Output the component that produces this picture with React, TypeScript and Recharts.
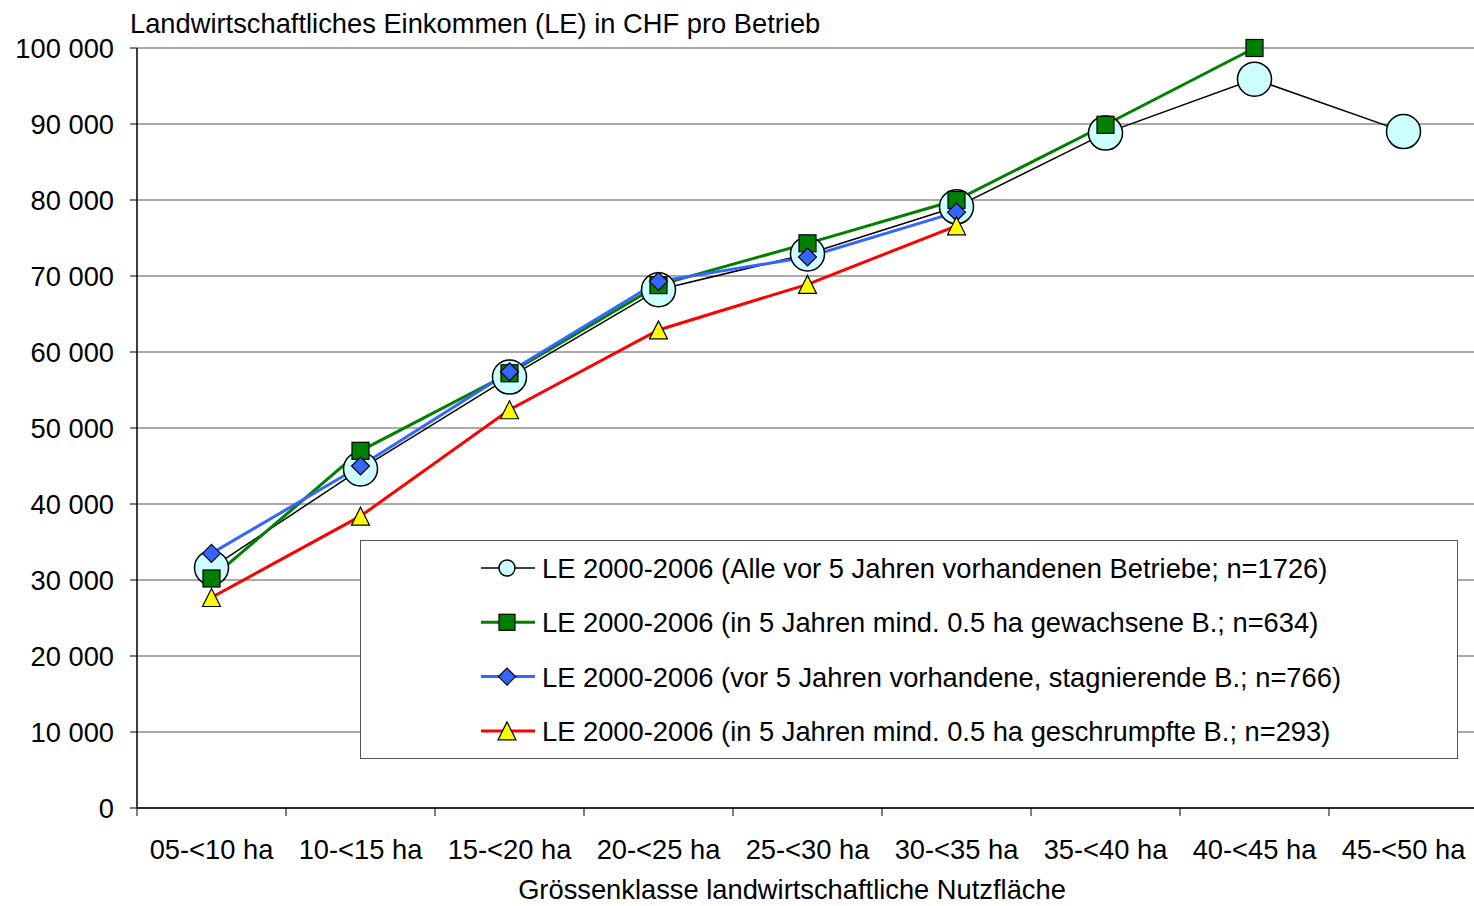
import React from 'react';
import { LineChart, Line, XAxis, YAxis, CartesianGrid } from 'recharts';

const categories = ['05-<10 ha', '10-<15 ha', '15-<20 ha', '20-<25 ha', '25-<30 ha', '30-<35 ha', '35-<40 ha', '40-<45 ha', '45-<50 ha'];
const leAll = [31600, 44600, 56700, 68200, 72900, 79100, 88800, 95900, 89000];
const leGrown = [30200, 47000, 57200, 68800, 74300, 80000, 89900, 100000, null];
const leStagnant = [33500, 45000, 57400, 69300, 72500, 78400, null, null, null];
const leShrunk = [27700, 38400, 52400, 62900, 68900, 76600, null, null, null];
const yTicks = [0, 10000, 20000, 30000, 40000, 50000, 60000, 70000, 80000, 90000, 100000];
const xTicks = [0, 1, 2, 3, 4, 5, 6, 7, 8, 9];

const seriesNames = [
  'LE 2000-2006 (Alle vor 5 Jahren vorhandenen Betriebe; n=1726)',
  'LE 2000-2006 (in 5 Jahren mind. 0.5 ha gewachsene B.; n=634)',
  'LE 2000-2006 (vor 5 Jahren vorhandene, stagnierende B.; n=766)',
  'LE 2000-2006 (in 5 Jahren mind. 0.5 ha geschrumpfte B.; n=293)',
];
const title = 'Landwirtschaftliches Einkommen (LE) in CHF pro Betrieb';
const xTitle = 'Grössenklasse landwirtschaftliche Nutzfläche';

const data = categories.map((c, i) => ({
  x: i + 0.5,
  cat: c,
  all: leAll[i],
  grown: leGrown[i],
  stag: leStagnant[i],
  shrunk: leShrunk[i],
}));

const FONT = '"Liberation Sans", Arial, sans-serif';
const FS = 27.3;
const W = 1474;
const CW = 1478;
const H = 906;
const LEFT = 137;
const BAND = (CW - LEFT) / 9;

const fmt = (v: number) => String(v).replace(/\B(?=(\d{3})+(?!\d))/g, ' ');

type Kind = 'circle' | 'square' | 'diamond' | 'triangle';

function Marker({ kind, cx, cy, big }: { kind: Kind; cx: number; cy: number; big: boolean }) {
  if (kind === 'circle') {
    return <circle cx={cx} cy={cy} r={big ? 17 : 8} fill="#CCFFFF" stroke="#000" strokeWidth={1.5} />;
  }
  if (kind === 'square') {
    const s = big ? 8.5 : 8;
    return <rect x={cx - s} y={cy - s} width={2 * s} height={2 * s} fill="#008000" stroke="#000" strokeWidth={1.2} />;
  }
  if (kind === 'diamond') {
    const s = big ? 9 : 8.5;
    return <polygon points={`${cx},${cy - s} ${cx + s},${cy} ${cx},${cy + s} ${cx - s},${cy}`} fill="#3366FF" stroke="#000" strokeWidth={1.2} />;
  }
  const s = 9;
  return <polygon points={`${cx},${cy - s} ${cx + s},${cy + s} ${cx - s},${cy + s}`} fill="#FFFF00" stroke="#000" strokeWidth={1.2} />;
}

const makeDot = (kind: Kind) => (p: any) => {
  if (p.cx == null || p.cy == null || p.value == null || Number.isNaN(p.cy)) return <g key={p.key || p.index} />;
  return (
    <g key={p.key || p.index}>
      <Marker kind={kind} cx={p.cx} cy={p.cy} big={true} />
    </g>
  );
};

const legendItems: { name: string; color: string; width: number; kind: Kind }[] = [
  { name: seriesNames[0], color: '#000000', width: 1.5, kind: 'circle' },
  { name: seriesNames[1], color: '#008000', width: 3, kind: 'square' },
  { name: seriesNames[2], color: '#3366FF', width: 3, kind: 'diamond' },
  { name: seriesNames[3], color: '#FF0000', width: 3, kind: 'triangle' },
];

const LegendBox = () => (
  <div style={{ position: 'absolute', left: 360, top: 540, width: 1098, height: 219, border: '1px solid #555', background: '#fff', boxSizing: 'border-box' }}>
    <svg width={1096} height={217} style={{ position: 'absolute', left: 0, top: 0 }}>
      {legendItems.map((it, i) => {
        const cy = 27 + i * 54.3;
        return (
          <g key={i}>
            <line x1={120} x2={174} y1={cy} y2={cy} stroke={it.color} strokeWidth={it.width} />
            <Marker kind={it.kind} cx={146} cy={cy} big={false} />
            <text x={181} y={cy + 10} fontFamily={FONT} fontSize={FS} fill="#000">{it.name}</text>
          </g>
        );
      })}
    </svg>
  </div>
);

const XTick = (p: any) => {
  const v = p.payload.value;
  if (v >= categories.length) return <g />;
  return (
    <text x={p.x + BAND / 2} y={859} textAnchor="middle" fontFamily={FONT} fontSize={FS} fill="#000">
      {categories[v]}
    </text>
  );
};

export default function App() {
  return (
    <div style={{ position: 'absolute', left: 0, top: 0, width: W, height: H, background: '#fff', overflow: 'hidden' }}>
      <LineChart width={CW} height={H} data={data} margin={{ top: 48, right: 0, left: 0, bottom: 0 }}>
        <CartesianGrid vertical={false} stroke="#555" strokeWidth={1} />
        <XAxis
          dataKey="x"
          type="number"
          domain={[0, 9]}
          ticks={xTicks}
          interval={0}
          height={98}
          axisLine={{ stroke: '#000', strokeWidth: 1.5 }}
          tickLine={{ stroke: '#000', strokeWidth: 1 }}
          tickSize={8}
          tick={<XTick />}
        />
        <YAxis
          type="number"
          domain={[0, 100000]}
          ticks={yTicks}
          interval={0}
          width={LEFT}
          tickFormatter={fmt}
          axisLine={{ stroke: '#000', strokeWidth: 1.5 }}
          tickLine={{ stroke: '#000', strokeWidth: 1 }}
          tickSize={7}
          tickMargin={16}
          tick={{ fill: '#000', fontSize: FS, fontFamily: FONT }}
        />
        <Line dataKey="all" name={seriesNames[0]} stroke="#000" strokeWidth={1.5} dot={makeDot('circle')} activeDot={false} isAnimationActive={false} />
        <Line dataKey="grown" name={seriesNames[1]} stroke="#008000" strokeWidth={3} dot={makeDot('square')} activeDot={false} isAnimationActive={false} />
        <Line dataKey="stag" name={seriesNames[2]} stroke="#3366FF" strokeWidth={3} dot={makeDot('diamond')} activeDot={false} isAnimationActive={false} />
        <Line dataKey="shrunk" name={seriesNames[3]} stroke="#FF0000" strokeWidth={3} dot={makeDot('triangle')} activeDot={false} isAnimationActive={false} />
      </LineChart>
      <LegendBox />
      <svg width={W} height={H} style={{ position: 'absolute', left: 0, top: 0, pointerEvents: 'none' }}>
        <text x={130} y={33} fontFamily={FONT} fontSize={FS} fill="#000">{title}</text>
        <text x={792} y={899} textAnchor="middle" fontFamily={FONT} fontSize={FS} fill="#000">{xTitle}</text>
      </svg>
    </div>
  );
}
